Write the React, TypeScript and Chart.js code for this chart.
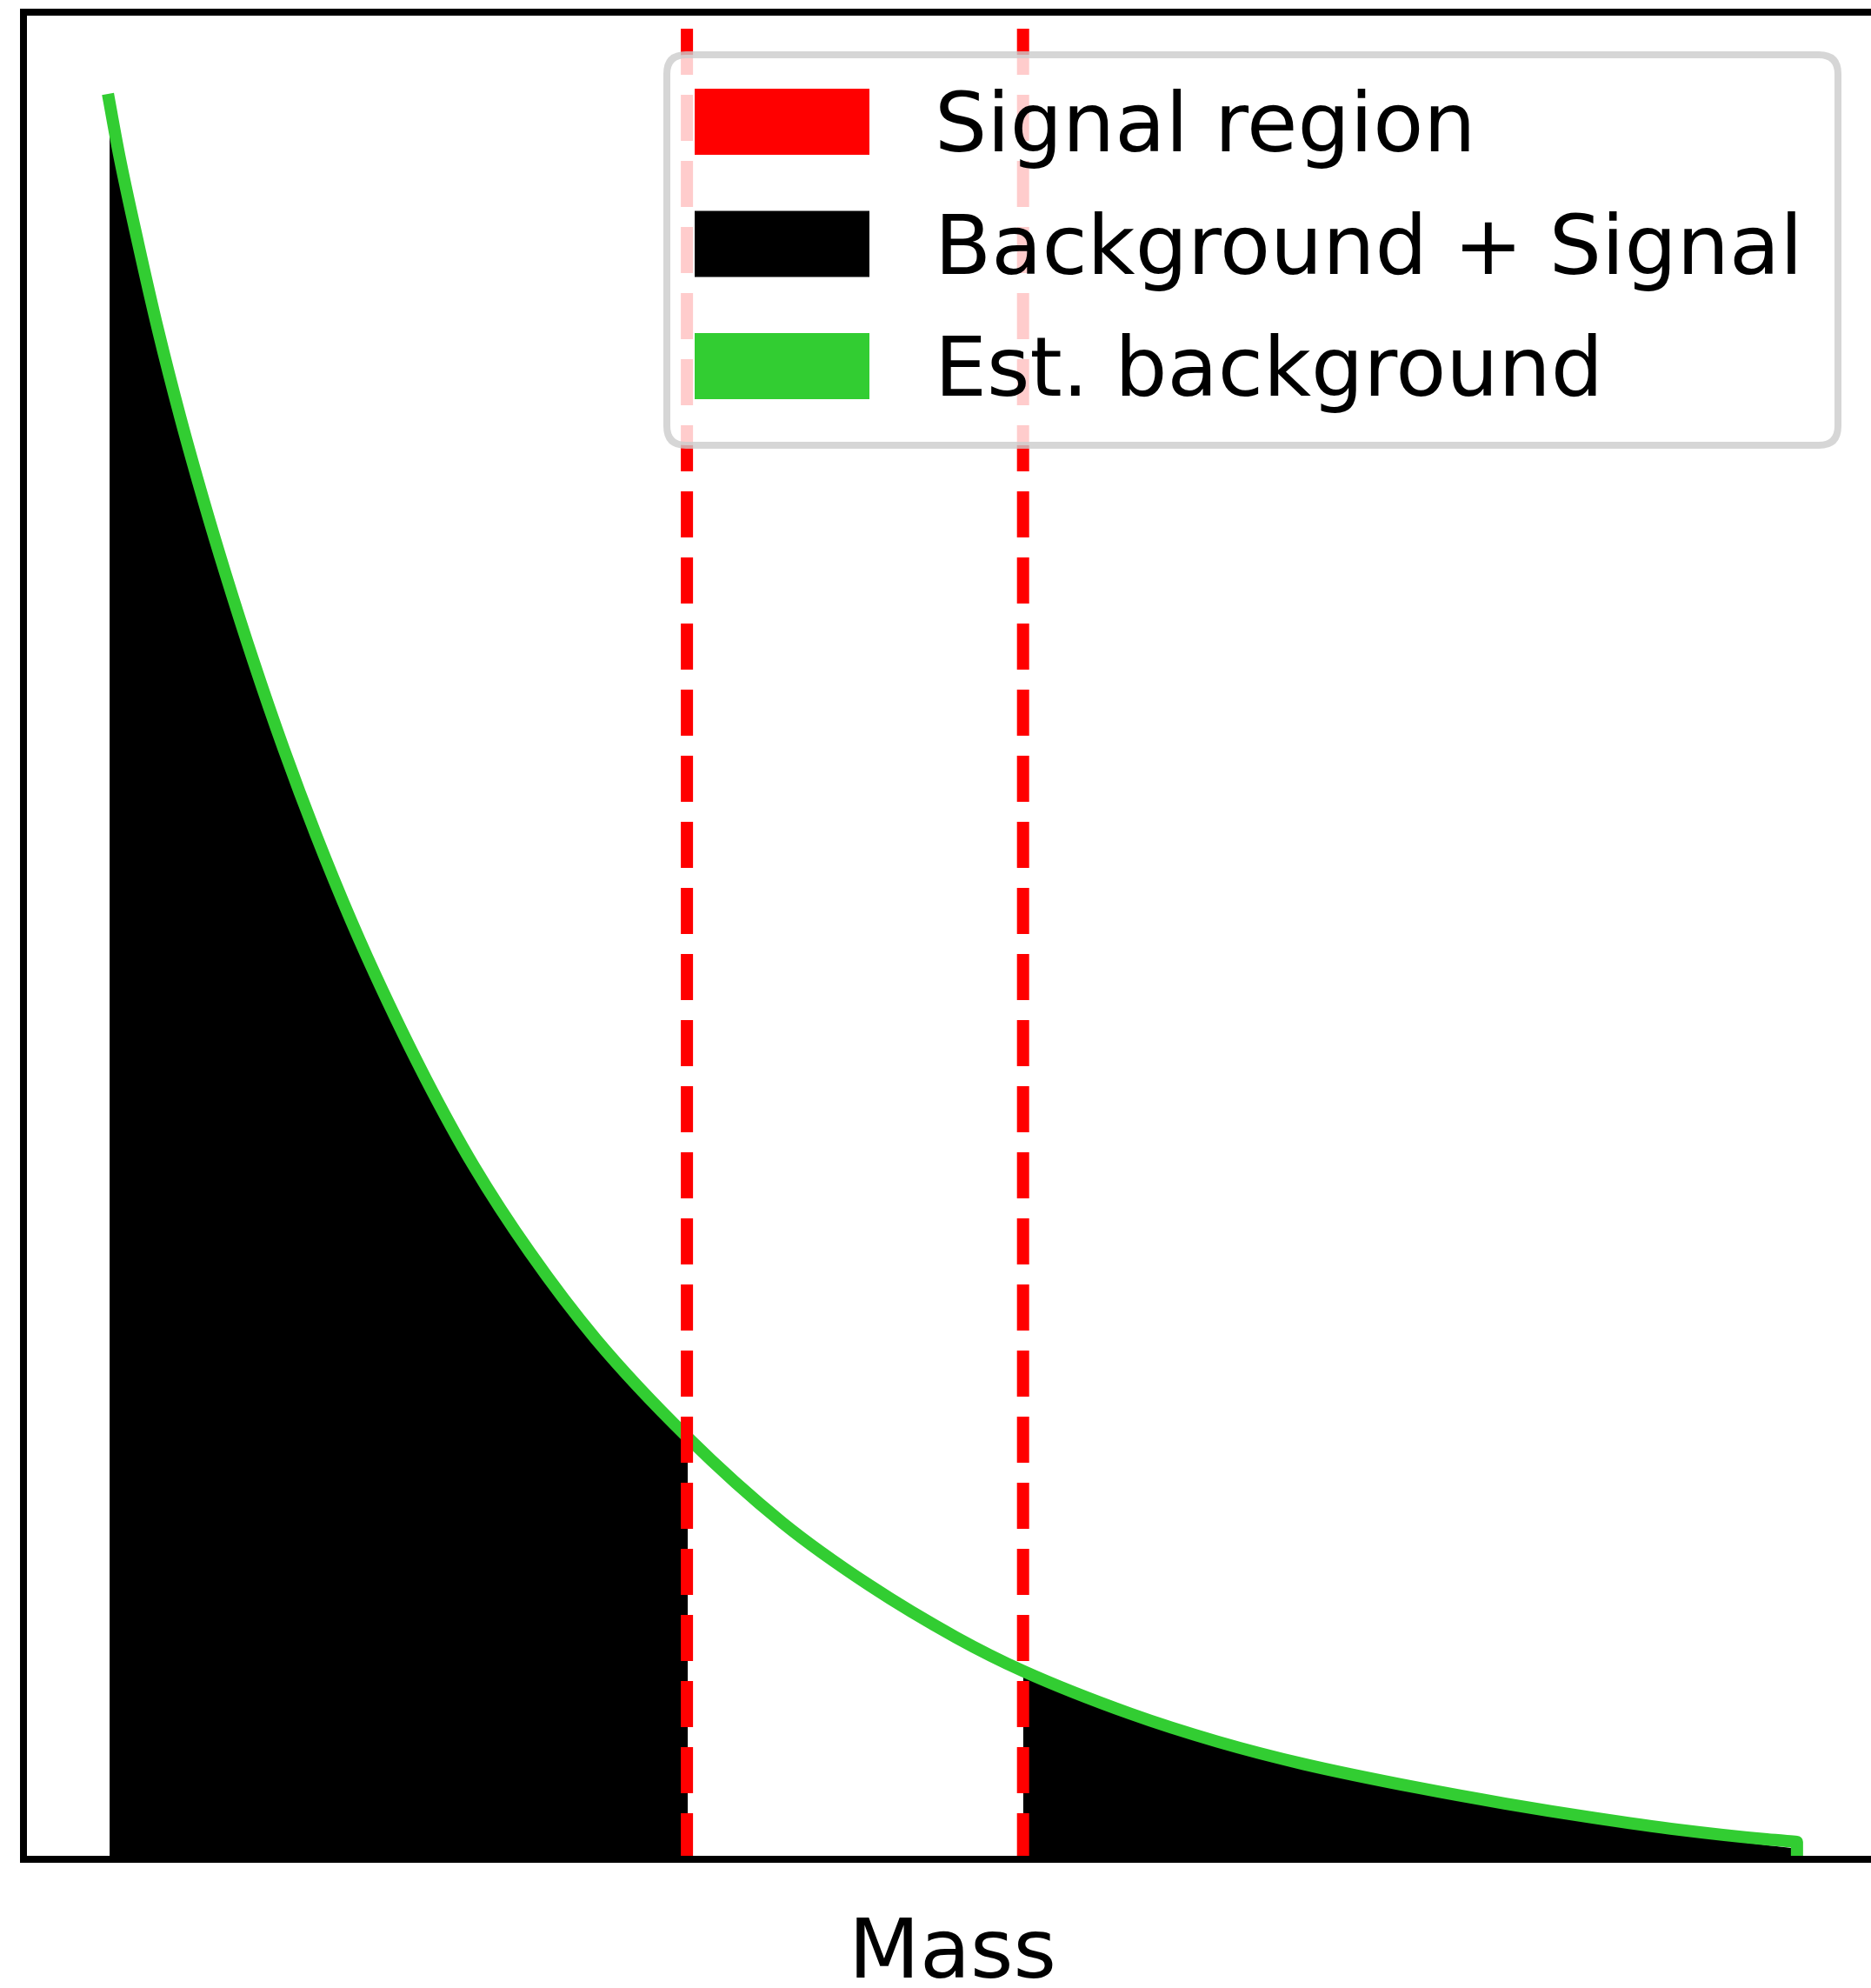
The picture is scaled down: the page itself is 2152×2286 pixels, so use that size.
import React, { useEffect, useRef } from "react";
import { Chart, registerables } from "chart.js";

Chart.register(...registerables);

// Estimated background curve (mass, counts)
const estMass = [
  0.0, 0.00685, 0.01791, 0.02975, 0.04288, 0.05729, 0.06965, 0.08612, 0.10388, 0.12318,
  0.14428, 0.16282, 0.18804, 0.21635, 0.24981, 0.28893, 0.34277, 0.3994, 0.45087, 0.50234,
  0.54198, 0.60529, 0.65677, 0.70824, 0.77619, 0.82767, 0.87914, 0.93061, 0.98209, 1.0,
];
const estCounts = [
  10000, 9645, 9153, 8660, 8167, 7675, 7281, 6788, 6295, 5803,
  5310, 4916, 4424, 3931, 3438, 2946, 2394, 1906, 1552, 1256,
  1066, 825, 667, 539, 404, 315, 236, 167, 113, 99,
];
// the estimate ends with a drop to zero at the upper edge
const estEndMass = [1.0, 1.0];
const estEndCounts = [99, 0];

// Background + Signal histogram, sidebands only (signal region blinded)
const histMassLow = [
  0.001, 0.02, 0.04, 0.06, 0.08, 0.1, 0.12, 0.14, 0.16, 0.18,
  0.2, 0.22, 0.24, 0.26, 0.28, 0.3, 0.32, 0.3433,
];
const histCountsLow = [
  9915, 9030, 8240, 7555, 6935, 6370, 5850, 5375, 4945, 4550,
  4185, 3845, 3550, 3280, 3025, 2800, 2595, 2365,
];
const histMassHigh = [
  0.5418, 0.56, 0.6, 0.64, 0.68, 0.72, 0.76, 0.8, 0.84, 0.88,
  0.92, 0.96, 1.0,
];
const histCountsHigh = [
  1040, 965, 815, 688, 578, 485, 405, 332, 265, 204,
  150, 105, 60,
];

const signalRegion = [0.3428, 0.5418];
const xLimits = [-0.05, 1.05];
const yLimits = [0, 10463];

const legendLabels = ["Signal region", "Background + Signal", "Est. background"];
const legendColors = ["#ff0000", "#000000", "#32cd32"];

const FONT = '"DejaVu Sans", "Liberation Sans", sans-serif';

const legendPlugin = {
  id: "mplLegend",
  afterDraw(chart: any) {
    const ctx = chart.ctx as CanvasRenderingContext2D;
    const x = 767, y = 63, w = 1347, h = 449, r = 22;
    ctx.save();
    ctx.beginPath();
    ctx.moveTo(x + r, y);
    ctx.lineTo(x + w - r, y);
    ctx.quadraticCurveTo(x + w, y, x + w, y + r);
    ctx.lineTo(x + w, y + h - r);
    ctx.quadraticCurveTo(x + w, y + h, x + w - r, y + h);
    ctx.lineTo(x + r, y + h);
    ctx.quadraticCurveTo(x, y + h, x, y + h - r);
    ctx.lineTo(x, y + r);
    ctx.quadraticCurveTo(x, y, x + r, y);
    ctx.closePath();
    ctx.fillStyle = "rgba(255,255,255,0.8)";
    ctx.fill();
    ctx.lineWidth = 8;
    ctx.strokeStyle = "rgba(204,204,204,0.8)";
    ctx.stroke();

    ctx.font = `95px ${FONT}`;
    ctx.textBaseline = "alphabetic";
    ctx.textAlign = "left";
    for (let i = 0; i < legendLabels.length; i++) {
      const top = 102 + i * 140.5;
      ctx.fillStyle = legendColors[i];
      ctx.fillRect(799, top, 201, 76);
      ctx.fillStyle = "#000000";
      ctx.fillText(legendLabels[i], 1075, top + 72);
    }
    ctx.restore();
  },
};

export default function App() {
  const ref = useRef<HTMLCanvasElement | null>(null);

  useEffect(() => {
    const canvas = ref.current;
    if (!canvas) return;

    const pts = (xs: number[], ys: number[]) => xs.map((m, i) => ({ x: m, y: ys[i] }));
    const vline = (m: number) => [
      { x: m, y: yLimits[0] },
      { x: m, y: yLimits[1] },
    ];

    const axisBorder = { display: true, color: "#000000", width: 8, z: 1 };
    const hiddenGrid = { display: false, drawTicks: false };

    const redLine = (m: number, order: number) => ({
      label: "Signal region",
      data: vline(m),
      borderColor: "#ff0000",
      borderWidth: 14,
      borderDash: [53, 23],
      borderCapStyle: "butt",
      pointRadius: 0,
      fill: false,
      tension: 0,
      order,
      xAxisID: "x",
      yAxisID: "y",
    });

    const histSet = (xs: number[], ys: number[], order: number) => ({
      label: "Background + Signal",
      data: pts(xs, ys),
      borderColor: "rgba(0,0,0,0)",
      borderWidth: 0,
      backgroundColor: "#000000",
      pointRadius: 0,
      fill: "origin",
      cubicInterpolationMode: "monotone",
      order,
      xAxisID: "x",
      yAxisID: "y",
    });

    const chart = new Chart(canvas, {
      type: "line",
      data: {
        datasets: [
          redLine(signalRegion[0], 0),
          redLine(signalRegion[1], 1),
          {
            label: "Est. background",
            data: pts(estMass, estCounts),
            borderColor: "#32cd32",
            borderWidth: 14,
            borderJoinStyle: "round",
            borderCapStyle: "butt",
            pointRadius: 0,
            fill: false,
            cubicInterpolationMode: "monotone",
            order: 2,
            xAxisID: "x",
            yAxisID: "y",
          },
          {
            label: "Est. background end",
            data: pts(estEndMass, estEndCounts),
            borderColor: "#32cd32",
            borderWidth: 14,
            borderCapStyle: "round",
            pointRadius: 0,
            fill: false,
            tension: 0,
            order: 3,
            xAxisID: "x",
            yAxisID: "y",
          },
          histSet(histMassLow, histCountsLow, 4),
          histSet(histMassHigh, histCountsHigh, 5),
        ],
      },
      options: {
        responsive: false,
        animation: false,
        devicePixelRatio: 1,
        events: [],
        layout: { padding: { left: 27, top: 14, right: 6, bottom: 0 } },
        plugins: {
          legend: { display: false },
          tooltip: { enabled: false },
        },
        scales: {
          x: {
            type: "linear",
            axis: "x",
            position: "bottom",
            min: xLimits[0],
            max: xLimits[1],
            ticks: { display: false },
            grid: hiddenGrid,
            border: axisBorder,
            title: {
              display: true,
              text: "Mass",
              color: "#000000",
              font: { family: FONT, size: 95, lineHeight: 1.2 },
              padding: { top: 54, bottom: -20 },
            },
          },
          xTop: {
            type: "linear",
            axis: "x",
            position: "top",
            min: xLimits[0],
            max: xLimits[1],
            ticks: { display: false },
            grid: hiddenGrid,
            border: axisBorder,
          },
          y: {
            type: "linear",
            axis: "y",
            position: "left",
            min: yLimits[0],
            max: yLimits[1],
            ticks: { display: false },
            grid: hiddenGrid,
            border: axisBorder,
          },
        },
      } as any,
      plugins: [legendPlugin],
    } as any);

    return () => {
      chart.destroy();
    };
  }, []);

  return (
    <div
      style={{
        position: "fixed",
        left: 0,
        top: 0,
        width: 2152,
        height: 2286,
        overflow: "hidden",
        background: "#ffffff",
      }}
    >
      <canvas
        ref={ref}
        width={2170}
        height={2286}
        style={{ width: 2170, height: 2286, display: "block" }}
      />
    </div>
  );
}
